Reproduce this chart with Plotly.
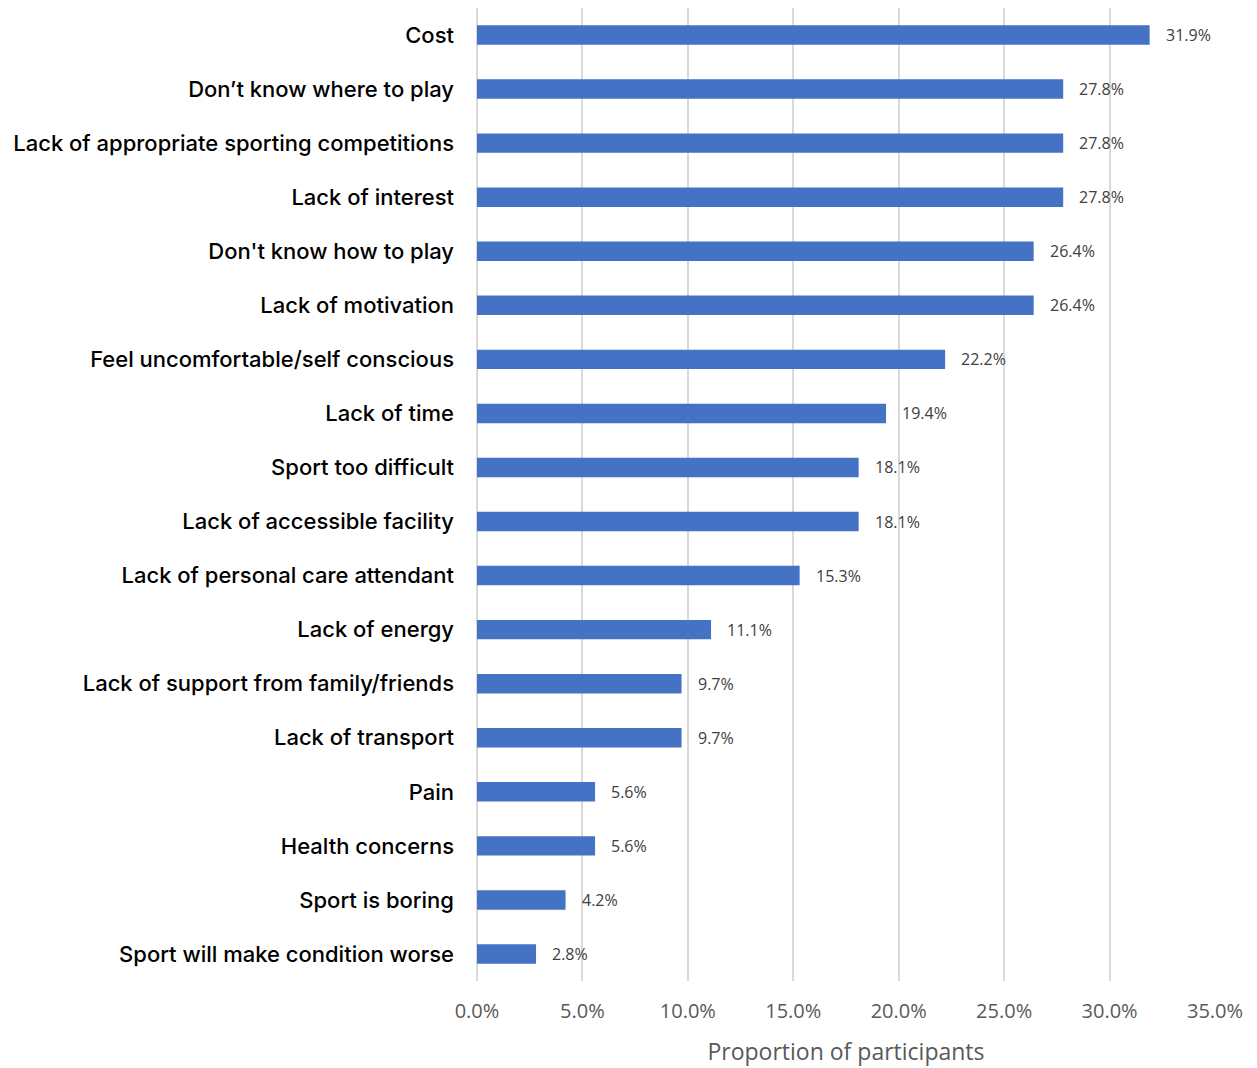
import plotly.graph_objects as go

categories = [
    "Cost", "Don’t know where to play", "Lack of appropriate sporting competitions",
    "Lack of interest", "Don't know how to play", "Lack of motivation",
    "Feel uncomfortable/self conscious", "Lack of time", "Sport too difficult",
    "Lack of accessible facility", "Lack of personal care attendant", "Lack of energy",
    "Lack of support from family/friends", "Lack of transport", "Pain",
    "Health concerns", "Sport is boring", "Sport will make condition worse",
]
values = [31.9, 27.8, 27.8, 27.8, 26.4, 26.4, 22.2, 19.4, 18.1, 18.1, 15.3, 11.1,
          9.7, 9.7, 5.6, 5.6, 4.2, 2.8]
tick_vals = [0, 5, 10, 15, 20, 25, 30, 35]
tick_text = [f"{v:.1f}%" for v in tick_vals]

fig = go.Figure(go.Bar(
    x=values, y=categories, orientation="h",
    marker=dict(color="#4472C4", line=dict(width=0)),
    width=0.36,
))

for c, v in zip(categories, values):
    fig.add_annotation(x=v, y=c, text=f"{v:.1f}%", showarrow=False,
                       xanchor="left", xshift=14,
                       font=dict(family="Open Sans, Noto Sans, sans-serif", size=16, color="#404040"))

fig.update_layout(
    width=1249, height=1060,
    margin=dict(l=469, r=42, t=0, b=87, autoexpand=False),
    plot_bgcolor="white", paper_bgcolor="white",
    showlegend=False,
    xaxis=dict(range=[0, 35], tickvals=tick_vals, ticktext=tick_text,
               showgrid=True, gridcolor="#D9D9D9", gridwidth=2,
               zeroline=True, zerolinecolor="#D9D9D9", zerolinewidth=2,
               showline=False, ticks="", ticklabelstandoff=16,
               tickfont=dict(family="Open Sans, Noto Sans, sans-serif", size=20, color="#595959"),
               title=dict(text="Proportion of participants", standoff=20,
                          font=dict(family="Open Sans, Noto Sans, sans-serif", size=23, color="#595959"))),
    yaxis=dict(autorange="reversed", showgrid=False, ticks="", ticklabelstandoff=22,
               tickfont=dict(family="Inter, Lato, sans-serif", size=22, color="#000000", weight=500)),
)

fig.write_html("out.html")
